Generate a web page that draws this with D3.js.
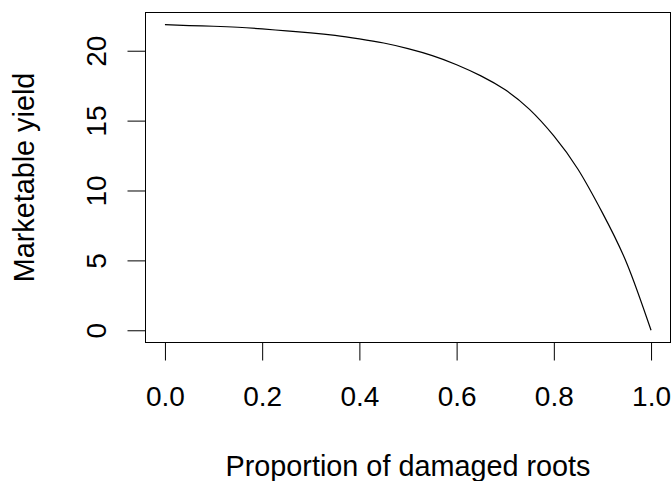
<!DOCTYPE html>
<html>
<head>
<meta charset="utf-8">
<script src="https://cdn.jsdelivr.net/npm/d3@7"></script>
<style>
  body { margin: 0; background: #fff; }
  text { font-family: "Liberation Sans", Arial, sans-serif; fill: #000; }
</style>
</head>
<body>
<svg id="chart"></svg>
<script>
// proportion of damaged roots vs marketable yield
var proportion = [0.00, 0.05, 0.10, 0.15, 0.20, 0.25, 0.30, 0.35, 0.40, 0.45, 0.50,
                  0.55, 0.60, 0.65, 0.70, 0.75, 0.80, 0.85, 0.90, 0.95, 1.00];
var yieldVals = [21.86, 21.80, 21.75, 21.68, 21.56, 21.42, 21.28, 21.10, 20.85, 20.55, 20.15,
                 19.65, 19.00, 18.20, 17.20, 15.80, 13.90, 11.50, 8.40, 4.80, 0.00];
var xTicks = [0, 0.2, 0.4, 0.6, 0.8, 1.0];
var yTicks = [0, 5, 10, 15, 20];

var W = 672, H = 481;
var box = {left: 145.5, right: 670.5, top: 12.5, bottom: 342.5};
var fsTick = 28, fsLab = 28.8;

var svg = d3.select("#chart").attr("width", W).attr("height", H);

// R style: range extended by 4% on both sides
var xpad = 0.04 * (1 - 0);
var ymax = d3.max(yieldVals), ymin = d3.min(yieldVals);
var ypad = 0.04 * (ymax - ymin);
var x = d3.scaleLinear().domain([0 - xpad, 1 + xpad]).range([box.left, box.right]);
var y = d3.scaleLinear().domain([ymin - ypad, ymax + ypad]).range([box.bottom, box.top]);

svg.append("rect")
    .attr("x", box.left).attr("y", box.top)
    .attr("width", box.right - box.left).attr("height", box.bottom - box.top)
    .style("fill", "none").style("stroke", "#000").style("stroke-width", 1);

// x axis
var xa = svg.append("g").attr("transform", "translate(0," + box.bottom + ")")
    .call(d3.axisBottom(x).tickValues(xTicks).tickSize(18).tickSizeOuter(0)
        .tickFormat(d3.format(".1f")));
xa.select(".domain")
    .attr("d", "M" + x(0) + ",0H" + x(1));
xa.selectAll("text").attr("y", null).attr("dy", null)
    .attr("transform", "translate(0,63)").style("font-size", fsTick + "px").style("font-family", null);
xa.selectAll("line").style("stroke", "#000");

// y axis
var ya = svg.append("g").attr("transform", "translate(" + box.left + ",0)")
    .call(d3.axisLeft(y).tickValues(yTicks).tickSize(18).tickSizeOuter(0));
ya.select(".domain").attr("d", "M0," + y(0) + "V" + y(20));
ya.selectAll(".tick text")
    .attr("x", null).attr("dy", null)
    .attr("text-anchor", "middle")
    .attr("transform", "translate(-40,0) rotate(-90)")
    .style("font-size", fsTick + "px").style("font-family", null);
ya.selectAll("line").style("stroke", "#000");

// curve
var line = d3.line()
    .x(function(d, i) { return x(proportion[i]); })
    .y(function(d) { return y(d); })
    .curve(d3.curveNatural);
svg.append("path")
    .datum(yieldVals)
    .attr("d", line)
    .style("fill", "none").style("stroke", "#000").style("stroke-width", 1.2);

// axis titles
svg.append("text")
    .attr("x", (box.left + box.right) / 2).attr("y", 476)
    .attr("text-anchor", "middle")
    .style("font-size", fsLab + "px")
    .text("Proportion of damaged roots");
svg.append("text")
    .attr("transform", "translate(34," + ((box.top + box.bottom) / 2) + ") rotate(-90)")
    .attr("text-anchor", "middle")
    .style("font-size", fsLab + "px")
    .text("Marketable yield");
</script>
</body>
</html>
